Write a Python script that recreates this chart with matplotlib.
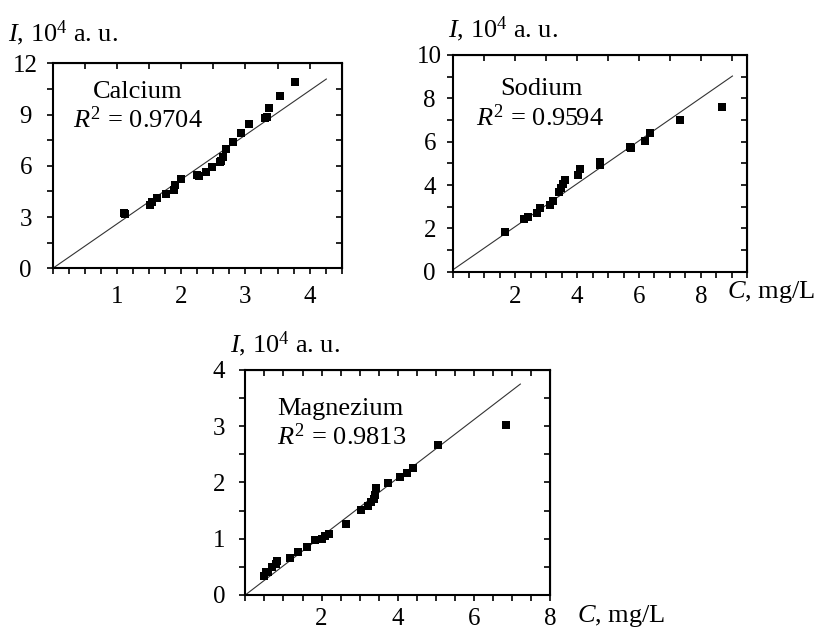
import numpy as np
import matplotlib
import matplotlib.pyplot as plt

matplotlib.use("Agg")

plt.rcParams["font.family"] = ["Liberation Serif", "DejaVu Serif"]
plt.rcParams["mathtext.fontset"] = "custom"
plt.rcParams["mathtext.rm"] = "Liberation Serif"
plt.rcParams["mathtext.it"] = "Liberation Serif:italic"

# Calcium, mg/L vs intensity (10^4 a.u.)
ca_c = [1.11, 1.12, 1.52, 1.55, 1.63, 1.77, 1.89, 1.90, 1.99, 2.25, 2.27, 2.38, 2.48,
        2.61, 2.62, 2.65, 2.69, 2.80, 2.93, 3.05, 3.30, 3.33, 3.37, 3.54, 3.77]
ca_i = [3.26, 3.20, 3.71, 3.86, 4.10, 4.33, 4.58, 4.88, 5.21, 5.46, 5.40, 5.66, 5.91,
        6.21, 6.30, 6.50, 6.97, 7.38, 7.90, 8.45, 8.78, 8.85, 9.37, 10.09, 10.93]
ca_fit_c = [0.0, 4.26]
ca_fit_i = [0.0, 11.08]

# Sodium
na_c = [1.67, 2.30, 2.43, 2.70, 2.81, 3.13, 3.22, 3.40, 3.49, 3.56, 3.62, 4.02, 4.10,
        4.75, 4.75, 5.72, 5.75, 6.18, 6.37, 7.31, 8.67]
na_i = [1.85, 2.42, 2.51, 2.72, 2.92, 3.08, 3.28, 3.69, 3.85, 4.05, 4.23, 4.46, 4.74,
        4.92, 5.08, 5.77, 5.72, 6.05, 6.42, 7.00, 7.59]
na_fit_c = [0.0, 9.02]
na_fit_i = [0.1, 9.03]

# Magnezium
mg_c = [0.50, 0.53, 0.60, 0.71, 0.80, 0.84, 1.17, 1.39, 1.61, 1.84, 2.00, 2.09, 2.19,
        2.65, 3.03, 3.22, 3.29, 3.38, 3.41, 3.42, 3.74, 4.05, 4.25, 4.40, 5.05, 6.84]
mg_i = [0.33, 0.40, 0.41, 0.50, 0.55, 0.61, 0.66, 0.77, 0.86, 0.97, 1.00, 1.04, 1.08,
        1.26, 1.51, 1.58, 1.66, 1.70, 1.78, 1.90, 1.99, 2.10, 2.16, 2.26, 2.67, 3.02]
mg_fit_c = [0.0, 7.21]
mg_fit_i = [0.0, 3.75]

panels = [
    dict(c=ca_c, i=ca_i, fc=ca_fit_c, fi=ca_fit_i, rect=[0.0647, 0.5741, 0.3541, 0.3254],
         xlim=(0, 4.5), ylim=(0, 12), xticks=[1, 2, 3, 4], yticks=[0, 3, 6, 9, 12],
         xminor=0.25, yminor=1.5, topstep=0.5, rightstep=1.5, ypad=15.5, xpad=9),
    dict(c=na_c, i=na_i, fc=na_fit_c, fi=na_fit_i, rect=[0.5555, 0.5687, 0.3603, 0.3440],
         xlim=(0, 9.5), ylim=(0, 10), xticks=[2, 4, 6, 8], yticks=[0, 2, 4, 6, 8, 10],
         xminor=0.5, yminor=1.0, topstep=1.0, rightstep=1.0, ypad=13, xpad=6),
    dict(c=mg_c, i=mg_i, fc=mg_fit_c, fi=mg_fit_i, rect=[0.3006, 0.0556, 0.3740, 0.3571],
         xlim=(0, 8), ylim=(0, 4), xticks=[2, 4, 6, 8], yticks=[0, 1, 2, 3, 4],
         xminor=0.5, yminor=0.5, topstep=0.5, rightstep=0.5, ypad=15, xpad=5.5),
]

fig = plt.figure(figsize=(8.16, 6.3), dpi=100)
fig.patch.set_facecolor("white")

for p in panels:
    ax = fig.add_axes(p["rect"])
    ax.plot(p["fc"], p["fi"], color="#333333", lw=0.8, zorder=2)
    ax.scatter(p["c"], p["i"], marker="s", s=30, color="black", linewidths=0, zorder=3)
    ax.set_xlim(*p["xlim"])
    ax.set_ylim(*p["ylim"])
    ax.set_xticks(p["xticks"])
    ax.set_yticks(p["yticks"])
    ax.set_xticks(np.arange(0, p["xlim"][1] + 1e-6, p["xminor"]), minor=True)
    ax.set_yticks(np.arange(0, p["ylim"][1] + 1e-6, p["yminor"]), minor=True)
    ax.tick_params(which="both", direction="out", length=4, width=1.2, labelsize=18)
    ax.tick_params(axis="y", pad=p["ypad"])
    ax.tick_params(axis="x", pad=p["xpad"])
    for lab in ax.get_yticklabels():
        lab.set_ha("center")
    for s in ax.spines.values():
        s.set_linewidth(1.5)

    # inward ticks on top and right, no labels
    top = ax.secondary_xaxis("top")
    top.set_xticks(np.arange(0, p["xlim"][1] + 1e-6, p["topstep"]))
    top.tick_params(direction="in", length=4, width=1.2, labeltop=False)
    right = ax.secondary_yaxis("right")
    right.set_yticks(np.arange(0, p["ylim"][1] + 1e-6, p["rightstep"]))
    right.tick_params(direction="in", length=4, width=1.2, labelright=False)

ylab = r"$I$, $10^4$ a. u."
fig.text(0.0098, 0.9338, ylab, fontsize=19, ha="left", va="baseline")
fig.text(0.549, 0.9408, ylab, fontsize=19, ha="left", va="baseline")
fig.text(0.2819, 0.4402, ylab, fontsize=19, ha="left", va="baseline")

xlab = r"$C$, mg/L"
fig.text(0.891, 0.5265, xlab, fontsize=19, ha="left", va="baseline")
fig.text(0.7067, 0.0132, xlab, fontsize=19, ha="left", va="baseline")

fig.text(0.1691, 0.844, "Calcium", fontsize=19, ha="center", va="baseline")
fig.text(0.1691, 0.7963, r"$R^2$ = 0.9704", fontsize=19, ha="center", va="baseline")
fig.text(0.663, 0.8492, "Sodium", fontsize=19, ha="center", va="baseline")
fig.text(0.662, 0.800, r"$R^2$ = 0.9594", fontsize=19, ha="center", va="baseline")
fig.text(0.3395, 0.3413, "Magnezium", fontsize=19, ha="left", va="baseline")
fig.text(0.3395, 0.2937, r"$R^2$ = 0.9813", fontsize=19, ha="left", va="baseline")

fig.savefig("out.png", dpi=100, facecolor="white")
